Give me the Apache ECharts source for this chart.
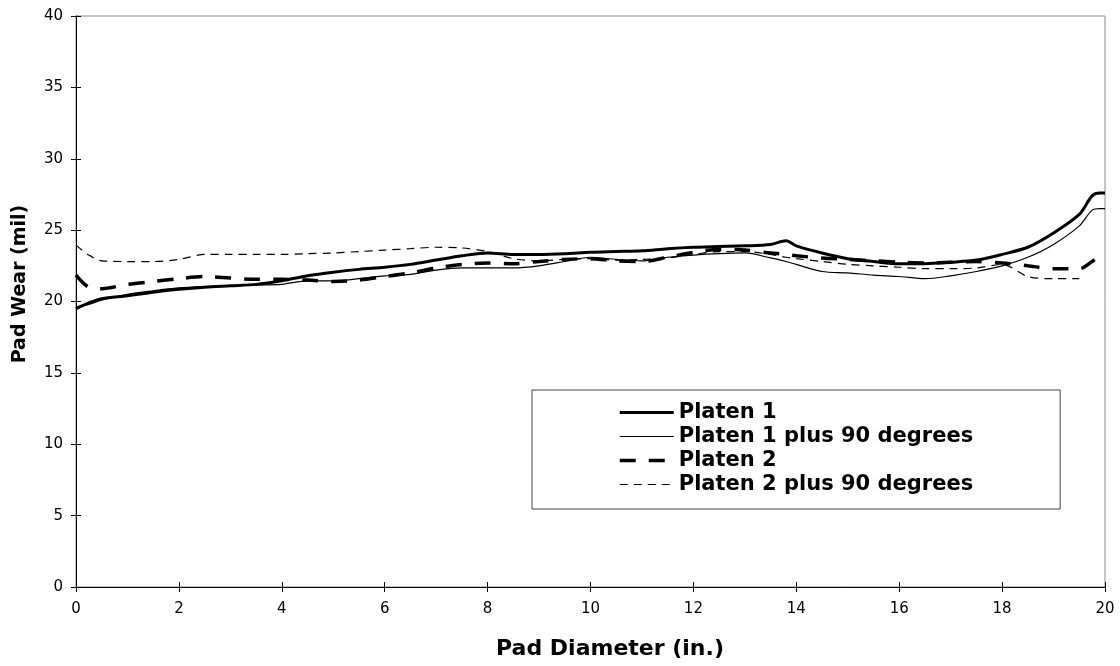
<!DOCTYPE html>
<html>
<head>
<meta charset="utf-8">
<script src="https://cdn.jsdelivr.net/npm/echarts@6/dist/echarts.min.js"></script>
<style>html,body{margin:0;padding:0;background:#fff;}#c{width:1120px;height:666px;}</style>
</head>
<body>
<div id="c"></div>
<script>
const xs = [0,0.25,0.5,1,1.5,2,2.5,3,3.5,4,4.5,5,5.5,6,6.5,7,7.5,8,8.5,9,9.5,10,10.5,11,11.5,12,12.5,13,13.5,13.8,14,14.5,15,15.5,16,16.5,17,17.5,18,18.5,19,19.5,19.75,19.9,20];
const platen1 = [19.5,19.9,20.2,20.4,20.65,20.85,21.0,21.1,21.2,21.45,21.8,22.05,22.25,22.4,22.6,22.9,23.2,23.4,23.3,23.3,23.35,23.45,23.5,23.55,23.7,23.8,23.85,23.9,24.0,24.25,23.9,23.4,23.0,22.8,22.65,22.65,22.75,22.9,23.3,23.8,24.8,26.1,27.4,27.6,27.6];
const platen1p90 = [19.6,19.8,20.1,20.5,20.75,20.95,21.05,21.1,21.15,21.2,21.45,21.45,21.6,21.8,21.9,22.2,22.35,22.35,22.35,22.5,22.8,23.1,22.95,22.85,23.1,23.25,23.35,23.4,23.05,22.8,22.6,22.1,22.0,21.85,21.75,21.6,21.8,22.1,22.5,23.1,24.0,25.3,26.4,26.5,26.5];
const platen2 = [21.85,21.0,20.9,21.2,21.4,21.6,21.75,21.65,21.55,21.55,21.5,21.4,21.5,21.75,22.0,22.35,22.6,22.7,22.65,22.8,22.95,23.0,22.85,22.8,23.1,23.45,23.65,23.6,23.4,23.3,23.2,23.05,22.95,22.85,22.75,22.7,22.75,22.8,22.7,22.5,22.3,22.3,22.8,23.2,null];
const platen2p90 = [23.95,23.25,22.85,22.8,22.8,22.95,23.3,23.3,23.3,23.3,23.35,23.4,23.5,23.6,23.7,23.8,23.75,23.5,23.0,22.85,22.95,23.0,22.9,22.95,23.05,23.3,23.5,23.5,23.3,23.1,23.0,22.8,22.6,22.5,22.4,22.3,22.3,22.35,22.6,21.75,21.6,21.6,null,null,null];
const seriesNames = ['Platen 1','Platen 1 plus 90 degrees','Platen 2','Platen 2 plus 90 degrees'];
const xTitle = 'Pad Diameter (in.)';
const yTitle = 'Pad Wear (mil)';

const styles = [
  {width:3, type:'solid'},
  {width:1.2, type:'solid'},
  {width:3.5, type:[16,13]},
  {width:1.2, type:[8,6]}
];

const pair = arr => xs.map((x,i) => [x, arr[i]]);
const tickFont = {fontFamily:'DejaVu Sans', fontSize:15, color:'#000'};

const chart = echarts.init(document.getElementById('c'), null, {renderer:'canvas'});
chart.setOption({
  animation:false,
  backgroundColor:'#fff',
  grid:{left:76, right:15, top:16, bottom:79, show:true, borderColor:'#8a8a8a', borderWidth:1, backgroundColor:'transparent'},
  xAxis:[
    {type:'value', min:0, max:20, interval:2, position:'bottom',
     axisLine:{show:true, lineStyle:{color:'#000', width:1}},
     axisTick:{show:true, length:5, lineStyle:{color:'#000'}},
     axisLabel:Object.assign({margin:15}, tickFont),
     splitLine:{show:false}},
    {type:'value', min:0, max:20, interval:2, position:'bottom',
     axisLine:{show:false}, axisTick:{show:true, inside:true, length:5, lineStyle:{color:'#000'}},
     axisLabel:{show:false}, splitLine:{show:false}}
  ],
  yAxis:[
    {type:'value', min:0, max:40, interval:5, position:'left',
     axisLine:{show:true, lineStyle:{color:'#000', width:1}},
     axisTick:{show:true, length:5, lineStyle:{color:'#000'}},
     axisLabel:Object.assign({margin:13}, tickFont),
     splitLine:{show:false}},
    {type:'value', min:0, max:40, interval:5, position:'left',
     axisLine:{show:false}, axisTick:{show:true, inside:true, length:5, lineStyle:{color:'#000'}},
     axisLabel:{show:false}, splitLine:{show:false}}
  ],
  legend:{
    orient:'vertical', left:532, top:390,
    padding:[12,87,14,86], itemGap:3, itemWidth:54, itemHeight:14,
    backgroundColor:'#fff', borderColor:'#444', borderWidth:1,
    textStyle:{fontFamily:'DejaVu Sans', fontWeight:'bold', fontSize:21, color:'#000'},
    itemStyle:{opacity:0},
    data:seriesNames.map((n,i)=>({name:n, itemStyle:{opacity:0, borderWidth:0},
      lineStyle:{color:'#000', width:styles[i].width, type:styles[i].type, opacity:1}}))
  },
  graphic:[
    {type:'text', x:20, y:284, rotation:Math.PI/2, style:{text:yTitle, fontFamily:'DejaVu Sans', fontWeight:'bold', fontSize:19, fill:'#000', align:'center', verticalAlign:'middle'}},
    {type:'text', x:610, y:649, style:{text:xTitle, fontFamily:'DejaVu Sans', fontWeight:'bold', fontSize:22, fill:'#000', align:'center', verticalAlign:'middle'}}
  ],
  series:[
    {name:seriesNames[3], type:'line', data:pair(platen2p90), symbol:'none', smooth:0.3,
     lineStyle:Object.assign({color:'#000'}, styles[3]), itemStyle:{color:'#000'}},
    {name:seriesNames[2], type:'line', data:pair(platen2), symbol:'none', smooth:0.3,
     lineStyle:Object.assign({color:'#000'}, styles[2]), itemStyle:{color:'#000'}},
    {name:seriesNames[1], type:'line', data:pair(platen1p90), symbol:'none', smooth:0.3,
     lineStyle:Object.assign({color:'#000'}, styles[1]), itemStyle:{color:'#000'}},
    {name:seriesNames[0], type:'line', data:pair(platen1), symbol:'none', smooth:0.3,
     lineStyle:Object.assign({color:'#000'}, styles[0]), itemStyle:{color:'#000'}}
  ]
});
</script>
</body>
</html>
